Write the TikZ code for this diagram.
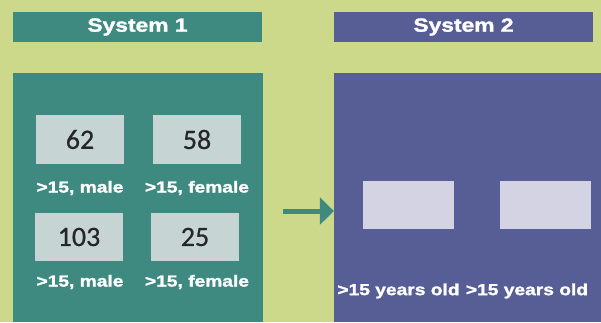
\documentclass[tikz,border=0pt]{standalone}
\usepackage{fontspec}
\setmainfont{Liberation Sans}
\newfontfamily\labfont{Liberation Sans}[FakeStretch=1.2,FakeBold=1.6]
\newfontfamily\numfont{Carlito}[FakeBold=0.6]
\usetikzlibrary{arrows.meta}
\definecolor{bgolive}{HTML}{CDD98A}
\definecolor{systeal}{HTML}{3E8A80}
\definecolor{syspurple}{HTML}{575E96}
\definecolor{cellgrey}{HTML}{C6D5D3}
\definecolor{celllilac}{HTML}{D3D3E3}
\begin{document}
\begin{tikzpicture}[x=1pt,y=-1pt]
\tikzset{flow/.style={-{Triangle[length=14pt,width=27pt]},line width=5pt,draw=systeal}}
\tikzstyle{head}=[rectangle,inner sep=0pt,text=white,font=\labfont\bfseries\fontsize{19}{19}\selectfont]
\tikzstyle{panel}=[rectangle,inner sep=0pt]
\tikzstyle{cell}=[rectangle,inner sep=0pt,minimum width=88pt,text=black!85,font=\numfont\fontsize{28}{28}\selectfont]
\tikzstyle{lab}=[text=white,inner sep=0pt,font=\labfont\bfseries\fontsize{16}{16}\selectfont]
\fill[bgolive] (0,0) rectangle (601,322);
\useasboundingbox (0,0) rectangle (601,322);
% system 1
\node[head,fill=systeal,minimum width=249pt,minimum height=30pt] (h1)at(137.5,27){System 1};
\node[panel,fill=systeal,minimum width=250pt,minimum height=249pt] (p1)at(138,197.5){};
\node[cell,fill=cellgrey,minimum height=49pt] (c1)at(80,139.5){62};
\node[cell,fill=cellgrey,minimum height=49pt] (c2)at(197,139.5){58};
\node[cell,fill=cellgrey,minimum height=48pt] (c3)at(79,237){103};
\node[cell,fill=cellgrey,minimum height=48pt] (c4)at(195,237){25};
\node[lab] (l1)at(80,188){>15, male};
\node[lab] (l2)at(197,188){>15, female};
\node[lab] (l3)at(80,282){>15, male};
\node[lab] (l4)at(197,282){>15, female};
% system 2
\node[head,fill=syspurple,minimum width=259pt,minimum height=30pt] (h2)at(463.5,27){System 2};
\node[panel,fill=syspurple,minimum width=267pt,minimum height=249pt] (p2)at(467.5,197.5){};
\node[cell,fill=celllilac,minimum width=91pt,minimum height=48pt] (c5)at(408.5,205){};
\node[cell,fill=celllilac,minimum width=91pt,minimum height=48pt] (c6)at(545.5,205){};
\node[lab] (l5)at(398.5,291){>15 years old};
\node[lab] (l6)at(527,291){>15 years old};
\coordinate (a0)at(283,211);
\draw[flow] (a0)--(a0 -| p2.west);
\end{tikzpicture}
\end{document}
